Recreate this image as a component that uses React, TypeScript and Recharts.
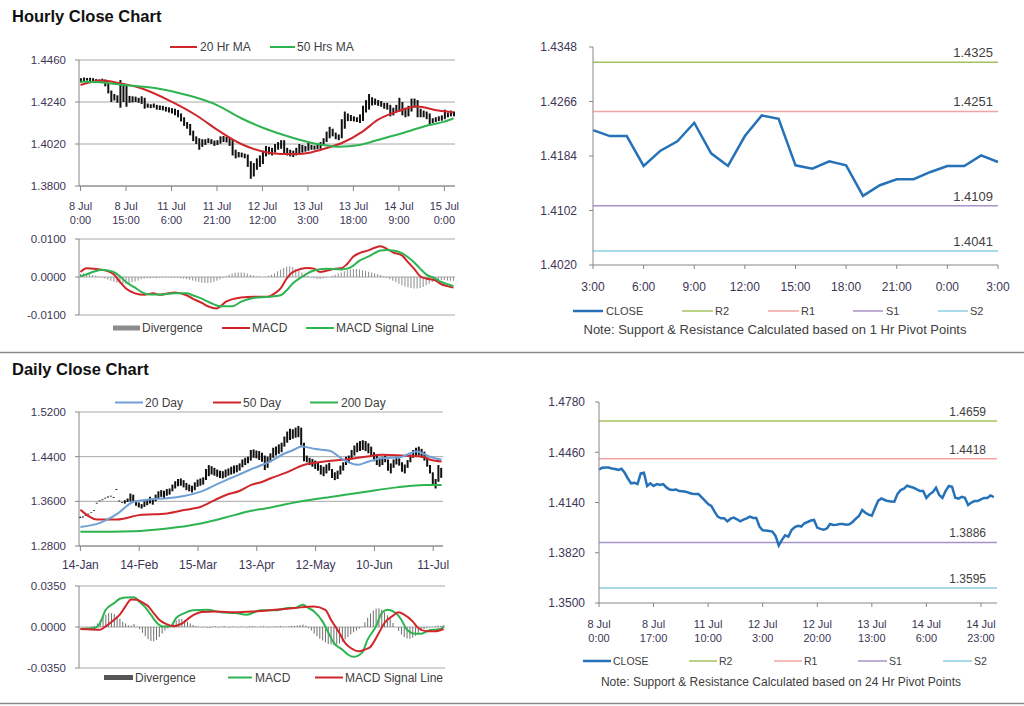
import React from 'react';
import {
  ComposedChart, LineChart, Line, Bar, XAxis, YAxis, CartesianGrid, ReferenceLine
} from 'recharts';

// ---------- hourly series: 8 Jul 0:00 .. 15 Jul 3:00 (124 bars) ----------
const hourLow = [
  1.4342, 1.4348, 1.4352, 1.4350, 1.4346, 1.4344, 1.4340, 1.4342, 1.4322, 1.4285,
  1.4240, 1.4248, 1.4236, 1.4210, 1.4240, 1.4215, 1.4236, 1.4238, 1.4240, 1.4236,
  1.4230, 1.4205, 1.4210, 1.4208, 1.4210, 1.4200, 1.4198, 1.4196, 1.4190, 1.4185,
  1.4180, 1.4170, 1.4160, 1.4138, 1.4115, 1.4100, 1.4065, 1.4035, 1.4020, 1.3990,
  1.4005, 1.4015, 1.4025, 1.4020, 1.4010, 1.4015, 1.4022, 1.4030, 1.4028, 1.4010,
  1.3960, 1.3945, 1.3950, 1.3950, 1.3945, 1.3900, 1.3838, 1.3850, 1.3885, 1.3900,
  1.3915, 1.3955, 1.3965, 1.3960, 1.3975, 1.3990, 1.3995, 1.3970, 1.3960, 1.3955,
  1.3952, 1.3960, 1.3965, 1.3975, 1.3980, 1.3985, 1.3990, 1.3990, 1.3992, 1.3995,
  1.4010, 1.4030, 1.4050, 1.4060, 1.4045, 1.4040, 1.4050, 1.4100, 1.4140, 1.4140,
  1.4138, 1.4135, 1.4130, 1.4140, 1.4185, 1.4200, 1.4222, 1.4225, 1.4220, 1.4215,
  1.4205, 1.4200, 1.4165, 1.4170, 1.4185, 1.4190, 1.4170, 1.4160, 1.4165, 1.4190,
  1.4210, 1.4160, 1.4160, 1.4160, 1.4150, 1.4118, 1.4130, 1.4135, 1.4140, 1.4142,
  1.4150, 1.4160, 1.4165, 1.4165,
];
const hourHigh = [
  1.4364, 1.4368, 1.4366, 1.4367, 1.4365, 1.4360, 1.4358, 1.4362, 1.4358, 1.4335,
  1.4300, 1.4282, 1.4275, 1.4355, 1.4340, 1.4332, 1.4272, 1.4270, 1.4268, 1.4262,
  1.4270, 1.4262, 1.4232, 1.4228, 1.4232, 1.4225, 1.4222, 1.4220, 1.4215, 1.4212,
  1.4208, 1.4205, 1.4198, 1.4180, 1.4160, 1.4135, 1.4125, 1.4090, 1.4060, 1.4050,
  1.4045, 1.4045, 1.4050, 1.4045, 1.4038, 1.4040, 1.4060, 1.4062, 1.4058, 1.4055,
  1.4045, 1.3990, 1.3978, 1.3975, 1.3970, 1.3965, 1.3930, 1.3920, 1.3945, 1.3960,
  1.3985, 1.4010, 1.4005, 1.4000, 1.4020, 1.4030, 1.4040, 1.4040, 1.4000, 1.3990,
  1.3985, 1.4000, 1.4020, 1.4015, 1.4010, 1.4025, 1.4015, 1.4012, 1.4020, 1.4030,
  1.4050, 1.4085, 1.4110, 1.4100, 1.4080, 1.4070, 1.4150, 1.4190, 1.4180, 1.4172,
  1.4165, 1.4160, 1.4175, 1.4220, 1.4250, 1.4282, 1.4265, 1.4258, 1.4250, 1.4245,
  1.4235, 1.4235, 1.4225, 1.4210, 1.4225, 1.4262, 1.4240, 1.4210, 1.4220, 1.4258,
  1.4258, 1.4250, 1.4205, 1.4195, 1.4190, 1.4180, 1.4155, 1.4160, 1.4165, 1.4170,
  1.4200, 1.4185, 1.4195, 1.4190,
];
const hourClose = [
  1.4350, 1.4361, 1.4363, 1.4363, 1.4357, 1.4353, 1.4348, 1.4355, 1.4329, 1.4293,
  1.4262, 1.4266, 1.4257, 1.4325, 1.4329, 1.4245, 1.4262, 1.4245, 1.4257, 1.4251,
  1.4257, 1.4236, 1.4223, 1.4219, 1.4223, 1.4213, 1.4211, 1.4209, 1.4202, 1.4196,
  1.4194, 1.4194, 1.4173, 1.4152, 1.4130, 1.4118, 1.4082, 1.4050, 1.4039, 1.4039,
  1.4020, 1.4037, 1.4044, 1.4033, 1.4020, 1.4031, 1.4039, 1.4050, 1.4042, 1.4042,
  1.3987, 1.3963, 1.3961, 1.3959, 1.3955, 1.3927, 1.3866, 1.3902, 1.3931, 1.3923,
  1.3965, 1.3984, 1.3991, 1.3987, 1.4008, 1.4016, 1.4025, 1.4029, 1.3980, 1.3972,
  1.3967, 1.3974, 1.4003, 1.3997, 1.3999, 1.4003, 1.4003, 1.3999, 1.4001, 1.4016,
  1.4037, 1.4054, 1.4092, 1.4075, 1.4063, 1.4056, 1.4105, 1.4152, 1.4166, 1.4156,
  1.4149, 1.4147, 1.4145, 1.4194, 1.4219, 1.4228, 1.4247, 1.4240, 1.4234, 1.4223,
  1.4214, 1.4214, 1.4169, 1.4192, 1.4206, 1.4234, 1.4188, 1.4169, 1.4214, 1.4245,
  1.4240, 1.4170, 1.4165, 1.4176, 1.4170, 1.4124, 1.4140, 1.4149, 1.4149, 1.4160,
  1.4169, 1.4169, 1.4185, 1.4175,
];
// moving averages, read at [bar, value]
const hourMa20 = [
  [0, 1.4329], [7, 1.4353], [13, 1.4338], [20, 1.4312], [30, 1.4242], [38, 1.4172],
  [46, 1.4085], [53, 1.4020], [60, 1.3981], [66, 1.3968], [71, 1.3967], [76, 1.3976],
  [81, 1.3998], [86, 1.4024], [93, 1.4085], [98, 1.4146], [105, 1.4193], [111, 1.4216],
  [118, 1.4195], [123, 1.4186],
];
const hourMa50 = [
  [0, 1.4348], [5, 1.4345], [16, 1.4327], [25, 1.4312], [35, 1.4277], [45, 1.4224],
  [53, 1.4155], [61, 1.4100], [67, 1.4067], [77, 1.4023], [85, 1.4006], [92, 1.4015],
  [98, 1.4041], [106, 1.4076], [115, 1.4120], [120, 1.4137], [123, 1.4155],
];
const hourDiv = [
  0.0008, 0.0010, 0.0009, 0.0007, 0.0005, 0.0003, 0.0001, -0.0002, -0.0004, -0.0007,
  -0.0010, -0.0013, -0.0015, -0.0017, -0.0018, -0.0018, -0.0016, -0.0014, -0.0012, -0.0009,
  -0.0006, -0.0004, -0.0003, -0.0003, -0.0002, -0.0003, -0.0002, -0.0001, -0.0002, -0.0001,
  -0.0001, -0.0002, -0.0002, -0.0003, -0.0004, -0.0005, -0.0007, -0.0009, -0.0011, -0.0013,
  -0.0015, -0.0016, -0.0016, -0.0015, -0.0013, -0.0010, -0.0006, -0.0002, 0.0002, 0.0006,
  0.0009, 0.0011, 0.0012, 0.0012, 0.0011, 0.0009, 0.0006, 0.0004, 0.0002, 0.0001,
  0.0000, 0.0001, 0.0003, 0.0006, 0.0010, 0.0015, 0.0020, 0.0024, 0.0027, 0.0028,
  0.0026, 0.0022, 0.0017, 0.0012, 0.0007, 0.0003, -0.0001, -0.0003, -0.0005, -0.0005,
  -0.0004, -0.0002, 0.0000, 0.0003, 0.0006, 0.0009, 0.0012, 0.0015, 0.0018, 0.0020,
  0.0021, 0.0021, 0.0020, 0.0018, 0.0016, 0.0014, 0.0012, 0.0010, 0.0008, 0.0005,
  0.0002, -0.0002, -0.0006, -0.0010, -0.0014, -0.0018, -0.0022, -0.0025, -0.0027, -0.0029,
  -0.0030, -0.0030, -0.0029, -0.0026, -0.0022, -0.0018, -0.0014, -0.0011, -0.0009, -0.0008,
  -0.0008, -0.0009, -0.0010, -0.0010,
];
const hourMacd = [
  [0, 0.0013], [2, 0.0023], [7, 0.0019], [11, 0.0007], [13, -0.0013], [15, -0.0030],
  [18, -0.0043], [21, -0.0047], [24, -0.0043], [26, -0.0047], [29, -0.0043], [31, -0.0041],
  [35, -0.0048], [37, -0.0057], [40, -0.0068], [42, -0.0077], [45, -0.0083], [46, -0.0078],
  [48, -0.0065], [53, -0.0054], [57, -0.0052], [62, -0.0052], [64, -0.0043], [66, -0.0030],
  [68, -0.0004], [70, 0.0013], [75, 0.0024], [77, 0.0022], [79, 0.0013], [84, 0.0022],
  [86, 0.0023], [88, 0.0035], [90, 0.0054], [92, 0.0063], [95, 0.0070], [97, 0.0077],
  [99, 0.0081], [101, 0.0074], [103, 0.0065], [106, 0.0057], [108, 0.0039], [110, 0.0022],
  [112, 0.0002], [114, -0.0004], [117, -0.0009], [119, -0.0019], [121, -0.0024], [123, -0.0028],
];
const hourSignal = [
  [0, 0.0002], [2, 0.0007], [4, 0.0013], [7, 0.0019], [9, 0.0017], [11, 0.0013],
  [13, 0.0002], [15, -0.0013], [18, -0.0028], [20, -0.0039], [23, -0.0046], [26, -0.0046],
  [31, -0.0043], [35, -0.0043], [37, -0.0048], [40, -0.0057], [42, -0.0065], [44, -0.0072],
  [46, -0.0077], [50, -0.0077], [53, -0.0065], [57, -0.0055], [62, -0.0052], [66, -0.0048],
  [68, -0.0035], [70, -0.0017], [73, 0.0000], [75, 0.0010], [77, 0.0017], [81, 0.0022],
  [86, 0.0020], [88, 0.0022], [90, 0.0030], [92, 0.0043], [95, 0.0054], [97, 0.0063],
  [99, 0.0070], [101, 0.0071], [103, 0.0070], [106, 0.0063], [108, 0.0052], [110, 0.0039],
  [112, 0.0022], [114, 0.0007], [117, -0.0004], [119, -0.0013], [121, -0.0019], [123, -0.0024],
];
const hourTicks = [0, 15, 30, 45, 60, 75, 90, 105, 120];
const hourTickDays = ['8 Jul', '8 Jul', '11 Jul', '11 Jul', '12 Jul', '13 Jul', '13 Jul', '14 Jul', '15 Jul'];
const hourTickTimes = ['0:00', '15:00', '6:00', '21:00', '12:00', '3:00', '18:00', '9:00', '0:00'];

// 1 hr pivot chart: last 25 hourly closes (14 Jul 3:00 .. 15 Jul 3:00)
const pivotStart = 99;
const pivotHourTicks = [0, 3, 6, 9, 12, 15, 18, 21, 24];
const pivotHourLabels = ['3:00', '6:00', '9:00', '12:00', '15:00', '18:00', '21:00', '0:00', '3:00'];
const hourPivots = { R2: 1.4325, R1: 1.4251, S1: 1.4109, S2: 1.4041 };

// 24 hr pivot chart over the full hourly close
const pivotDayTicks = [0, 17, 34, 51, 68, 85, 102, 119];
const pivotDayDays = ['8 Jul', '8 Jul', '11 Jul', '12 Jul', '12 Jul', '13 Jul', '14 Jul', '14 Jul'];
const pivotDayTimes = ['0:00', '17:00', '10:00', '3:00', '20:00', '13:00', '6:00', '23:00'];
const dayPivots = { R2: 1.4659, R1: 1.4418, S1: 1.3886, S2: 1.3595 };

// ---------- daily series: 14 Jan .. 15 Jul (130 bars) ----------
const dayLow = [
  1.3300, 1.3310, 1.3340, 1.3365, 1.3390, 1.3425, 1.3560, 1.3600, 1.3620, 1.3650,
  1.3670, 1.3685, 1.3660, 1.3805, 1.3600, 1.3570, 1.3560, 1.3590, 1.3600, 1.3580,
  1.3520, 1.3490, 1.3470, 1.3500, 1.3530, 1.3560, 1.3540, 1.3600, 1.3650, 1.3680,
  1.3660, 1.3700, 1.3720, 1.3780, 1.3830, 1.3870, 1.3880, 1.3850, 1.3800, 1.3780,
  1.3760, 1.3800, 1.3860, 1.3880, 1.3900, 1.3980, 1.4050, 1.4080, 1.4060, 1.4040,
  1.4020, 1.4010, 1.4030, 1.4060, 1.4080, 1.4100, 1.4120, 1.4150, 1.4210, 1.4250,
  1.4280, 1.4330, 1.4380, 1.4370, 1.4340, 1.4310, 1.4160, 1.4200, 1.4300, 1.4380,
  1.4420, 1.4450, 1.4480, 1.4580, 1.4650, 1.4700, 1.4720, 1.4740, 1.4750, 1.4600,
  1.4320, 1.4300, 1.4250, 1.4220, 1.4180, 1.4150, 1.4080, 1.4050, 1.4100, 1.4150,
  1.4020, 1.3980, 1.4000, 1.4080, 1.4150, 1.4250, 1.4290, 1.4350, 1.4420, 1.4480,
  1.4500, 1.4520, 1.4500, 1.4460, 1.4420, 1.4320, 1.4250, 1.4220, 1.4250, 1.4300,
  1.4150, 1.4100, 1.4200, 1.4260, 1.4240, 1.4130, 1.4100, 1.4200, 1.4300, 1.4380,
  1.4400, 1.4420, 1.4380, 1.4330, 1.4220, 1.4100, 1.3880, 1.3830, 1.3950, 1.4020,
];
const dayHigh = [
  1.3325, 1.3330, 1.3352, 1.3378, 1.3402, 1.3440, 1.3575, 1.3615, 1.3635, 1.3665,
  1.3685, 1.3700, 1.3675, 1.3822, 1.3615, 1.3585, 1.3620, 1.3650, 1.3740, 1.3720,
  1.3610, 1.3580, 1.3550, 1.3600, 1.3640, 1.3680, 1.3650, 1.3720, 1.3780, 1.3800,
  1.3790, 1.3820, 1.3830, 1.3900, 1.3960, 1.4000, 1.4010, 1.3980, 1.3930, 1.3900,
  1.3880, 1.3940, 1.3990, 1.4010, 1.4030, 1.4180, 1.4250, 1.4230, 1.4200, 1.4170,
  1.4150, 1.4140, 1.4170, 1.4190, 1.4220, 1.4240, 1.4250, 1.4280, 1.4350, 1.4380,
  1.4400, 1.4520, 1.4530, 1.4510, 1.4500, 1.4470, 1.4420, 1.4400, 1.4460, 1.4560,
  1.4580, 1.4620, 1.4650, 1.4760, 1.4850, 1.4900, 1.4890, 1.4920, 1.4950, 1.4920,
  1.4650, 1.4420, 1.4380, 1.4360, 1.4330, 1.4300, 1.4250, 1.4220, 1.4260, 1.4290,
  1.4180, 1.4120, 1.4150, 1.4240, 1.4300, 1.4400, 1.4420, 1.4520, 1.4600, 1.4650,
  1.4680, 1.4695, 1.4680, 1.4640, 1.4580, 1.4480, 1.4420, 1.4380, 1.4400, 1.4420,
  1.4350, 1.4280, 1.4350, 1.4400, 1.4370, 1.4300, 1.4260, 1.4340, 1.4440, 1.4520,
  1.4560, 1.4580, 1.4540, 1.4490, 1.4380, 1.4250, 1.4120, 1.4000, 1.4250, 1.4200,
];
const dayMa20 = [
  [0, 1.3140], [7, 1.3215], [13, 1.3370], [19, 1.3593], [25, 1.3636], [31, 1.3654],
  [37, 1.3696], [43, 1.3773], [49, 1.3912], [55, 1.4044], [60, 1.4153], [65, 1.4255],
  [68, 1.4320], [72, 1.4434], [76, 1.4520], [79, 1.4584], [84, 1.4536], [89, 1.4506],
  [94, 1.4344], [99, 1.4254], [103, 1.4314], [108, 1.4374], [114, 1.4390], [120, 1.4494],
  [125, 1.4393], [129, 1.4344],
];
const dayMa50 = [
  [0, 1.3450], [6, 1.3276], [13, 1.3276], [21, 1.3353], [31, 1.3383], [37, 1.3443],
  [43, 1.3503], [48, 1.3623], [52, 1.3713], [57, 1.3790], [61, 1.3894], [65, 1.3950],
  [68, 1.4013], [73, 1.4104], [80, 1.4255], [87, 1.4314], [94, 1.4344], [101, 1.4392],
  [108, 1.4434], [116, 1.4416], [122, 1.4404], [125, 1.4344], [129, 1.4314],
];
const dayMa200 = [
  [0, 1.3053], [19, 1.3065], [31, 1.3113], [43, 1.3203], [55, 1.3353], [61, 1.3430],
  [66, 1.3473], [78, 1.3593], [90, 1.3683], [102, 1.3773], [113, 1.3850], [123, 1.3893],
  [129, 1.3893],
];
const dayDiv = [
  0.0000, -0.0003, -0.0003, 0.0000, 0.0005, 0.0010, 0.0030, 0.0055, 0.0085, 0.0105,
  0.0120, 0.0118, 0.0110, 0.0095, 0.0070, 0.0045, 0.0030, 0.0015, 0.0010, 0.0025,
  0.0005, -0.0020, -0.0050, -0.0080, -0.0105, -0.0120, -0.0122, -0.0110, -0.0085, -0.0055,
  -0.0030, -0.0012, 0.0005, 0.0030, 0.0055, 0.0068, 0.0070, 0.0060, 0.0045, 0.0030,
  0.0018, 0.0008, 0.0003, -0.0005, 0.0002, -0.0006, -0.0008, 0.0004, 0.0006, -0.0004,
  0.0003, 0.0008, -0.0003, -0.0006, 0.0004, 0.0002, -0.0005, 0.0005, 0.0003, -0.0004,
  0.0006, 0.0008, 0.0004, -0.0003, 0.0005, 0.0007, 0.0003, -0.0004, 0.0002, 0.0006,
  0.0004, 0.0008, 0.0005, 0.0003, 0.0007, 0.0010, 0.0008, 0.0012, 0.0018, 0.0022,
  0.0010, -0.0010, -0.0030, -0.0055, -0.0080, -0.0100, -0.0115, -0.0130, -0.0145, -0.0150,
  -0.0155, -0.0150, -0.0140, -0.0125, -0.0105, -0.0085, -0.0065, -0.0045, -0.0030, -0.0015,
  0.0005, 0.0040, 0.0080, 0.0115, 0.0140, 0.0158, 0.0160, 0.0150, 0.0125, 0.0100,
  0.0070, 0.0035, 0.0000, -0.0035, -0.0065, -0.0085, -0.0098, -0.0100, -0.0092, -0.0075,
  -0.0055, -0.0035, -0.0020, -0.0010, -0.0005, 0.0003, 0.0008, 0.0012, 0.0010, 0.0015,
];
const dayMacd = [
  [0, -0.0017], [5, -0.0009], [7, 0.0034], [9, 0.0147], [12, 0.0204], [14, 0.0241],
  [16, 0.0252], [19, 0.0255], [21, 0.0215], [23, 0.0170], [25, 0.0105], [27, 0.0040],
  [29, 0.0005], [32, 0.0006], [34, 0.0077], [37, 0.0119], [40, 0.0142], [45, 0.0147],
  [50, 0.0125], [55, 0.0119], [59, 0.0105], [64, 0.0142], [69, 0.0142], [74, 0.0162],
  [76, 0.0162], [79, 0.0190], [81, 0.0162], [83, 0.0133], [86, 0.0048], [88, -0.0045],
  [90, -0.0136], [93, -0.0193], [95, -0.0235], [97, -0.0255], [100, -0.0221], [102, -0.0108],
  [105, 0.0006], [107, 0.0119], [109, 0.0147], [112, 0.0119], [114, 0.0062], [116, -0.0023],
  [119, -0.0057], [121, -0.0057], [124, -0.0028], [126, -0.0023], [128, -0.0017], [129, 0.0006],
];
const daySignal = [
  [0, -0.0017], [7, -0.0023], [9, 0.0006], [12, 0.0062], [14, 0.0105], [16, 0.0176],
  [18, 0.0235], [20, 0.0232], [22, 0.0210], [24, 0.0180], [26, 0.0119], [28, 0.0062],
  [31, 0.0020], [33, 0.0006], [36, 0.0028], [39, 0.0085], [43, 0.0128], [48, 0.0133],
  [55, 0.0125], [62, 0.0133], [69, 0.0147], [76, 0.0162], [83, 0.0176], [87, 0.0147],
  [89, 0.0062], [92, -0.0051], [94, -0.0136], [96, -0.0179], [99, -0.0207], [101, -0.0193],
  [103, -0.0170], [106, -0.0051], [108, 0.0034], [111, 0.0096], [113, 0.0125], [115, 0.0105],
  [118, 0.0048], [120, -0.0009], [123, -0.0037], [126, -0.0037], [129, -0.0017],
];
const dayTicks = [0, 21, 42, 63, 84, 105, 126];
const dayTickLabels = ['14-Jan', '14-Feb', '15-Mar', '13-Apr', '12-May', '10-Jun', '11-Jul'];

// ---------- styling ----------
const FONT = '"Liberation Sans", Arial, sans-serif';
const AXIS = '#868686';
const GRID = '#a8a8a8';
const TICK_TEXT = '#3d3556';
const TEXT = '#404040';
const RED = '#d0262a';
const GREEN = '#2db451';
const MA_BLUE = '#6f9fd5';
const CLOSE_BLUE = '#2672b8';
const R2_C = '#a3c25f';
const R1_C = '#f0a4a4';
const S1_C = '#a893c8';
const S2_C = '#8ccfe3';

const fmt4 = (v: number) => v.toFixed(4);

const addSparse = (rows: any[], key: string, pts: number[][]) => {
  pts.forEach(([i, v]) => { rows[i][key] = v; });
  return rows;
};

const hourPriceRows = hourLow.map((lo, i) => ({ i, range: [lo, hourHigh[i]] } as any));
addSparse(hourPriceRows, 'ma20', hourMa20);
addSparse(hourPriceRows, 'ma50', hourMa50);

const hourMacdRows = hourDiv.map((d, i) => ({ i, div: d } as any));
addSparse(hourMacdRows, 'macd', hourMacd);
addSparse(hourMacdRows, 'signal', hourSignal);

const dayPriceRows = dayLow.map((lo, i) => ({ i, range: [lo, dayHigh[i]] } as any));
addSparse(dayPriceRows, 'ma20', dayMa20);
addSparse(dayPriceRows, 'ma50', dayMa50);
addSparse(dayPriceRows, 'ma200', dayMa200);

const dayMacdRows = dayDiv.map((d, i) => ({ i, div: d } as any));
addSparse(dayMacdRows, 'macd', dayMacd);
addSparse(dayMacdRows, 'signal', daySignal);

const hourPivotRows = hourClose.slice(pivotStart).map((c, k) => ({ k, close: c }));
const dayPivotRows = hourClose.map((c, i) => ({ i, close: c }));

const TwoLineTick = ({ x, y, payload, ticks, tops, bottoms, size, d1, d2 }: any) => {
  const k = ticks.indexOf(payload.value);
  return (
    <text x={x} y={y} textAnchor="middle" fontSize={size} fill={TICK_TEXT}>
      <tspan x={x} dy={d1}>{tops[k]}</tspan>
      <tspan x={x} dy={d2 - d1}>{bottoms[k]}</tspan>
    </text>
  );
};

const OneLineTick = ({ x, y, payload, ticks, labels, size, d1 }: any) => {
  const k = ticks.indexOf(payload.value);
  return (
    <text x={x} y={y + d1} textAnchor="middle" fontSize={size} fill={TICK_TEXT}>{labels[k]}</text>
  );
};

const PivotLabel = ({ viewBox, text, pad, size }: any) => (
  <text x={viewBox.x + viewBox.width - pad} y={viewBox.y - 5} textAnchor="end" fontSize={size} fill={TEXT}>
    {text}
  </text>
);

const yAxisProps = (size: number, margin: number) => ({
  tick: { fill: TICK_TEXT, fontSize: size },
  tickLine: { stroke: AXIS },
  axisLine: { stroke: AXIS },
  tickSize: 4,
  tickMargin: margin,
  tickFormatter: fmt4,
  interval: 0 as const,
});

const Box = ({ left, top, children }: any) => (
  <div style={{ position: 'absolute', left, top }}>{children}</div>
);

const LLine = ({ x1, x2, y, c, w = 2 }: any) => (
  <line x1={x1} x2={x2} y1={y} y2={y} stroke={c} strokeWidth={w} />
);
const LText = ({ x, y, s = 12, children }: any) => (
  <text x={x} y={y} fontSize={s} fill={TEXT}>{children}</text>
);

export default function App() {
  return (
    <div style={{ position: 'absolute', left: 0, top: 0, width: 1024, height: 706, background: '#fff', fontFamily: FONT, overflow: 'hidden' }}>
      {/* Hourly price with candles + MAs */}
      <Box left={0} top={50}>
        <ComposedChart width={475} height={180} data={hourPriceRows} margin={{ top: 10, right: 20, bottom: 0, left: 0 }}>
          <CartesianGrid vertical={false} stroke={GRID} />
          <XAxis
            dataKey="i" type="number" domain={[-0.5, 123.5]} ticks={hourTicks} interval={0}
            height={44} tickSize={5} tickLine={{ stroke: AXIS }} axisLine={{ stroke: AXIS }}
            tick={(p: any) => <TwoLineTick {...p} ticks={hourTicks} tops={hourTickDays} bottoms={hourTickTimes} size={11} d1={17} d2={31} />}
          />
          <YAxis width={79} domain={[1.38, 1.446]} ticks={[1.38, 1.402, 1.424, 1.446]} {...yAxisProps(11.5, 9)} />
          <Bar dataKey="range" fill="#111" barSize={2} isAnimationActive={false} />
          <Line dataKey="ma20" type="monotone" stroke={RED} strokeWidth={2} dot={false} connectNulls isAnimationActive={false} />
          <Line dataKey="ma50" type="monotone" stroke={GREEN} strokeWidth={2} dot={false} connectNulls isAnimationActive={false} />
        </ComposedChart>
      </Box>

      {/* Hourly MACD */}
      <Box left={0} top={230}>
        <ComposedChart width={475} height={93} data={hourMacdRows} margin={{ top: 9, right: 20, bottom: 8, left: 0 }}>
          <CartesianGrid vertical={false} stroke={GRID} />
          <XAxis dataKey="i" type="number" domain={[-0.5, 123.5]} hide />
          <YAxis width={79} domain={[-0.01, 0.01]} ticks={[-0.01, 0, 0.01]} {...yAxisProps(11.5, 9)} />
          <Bar dataKey="div" fill="#8c8c8c" barSize={1} isAnimationActive={false} />
          <Line dataKey="macd" type="monotone" stroke={RED} strokeWidth={2} dot={false} connectNulls isAnimationActive={false} />
          <Line dataKey="signal" type="monotone" stroke={GREEN} strokeWidth={2} dot={false} connectNulls isAnimationActive={false} />
        </ComposedChart>
      </Box>

      {/* 1 Hr pivot chart */}
      <Box left={520} top={37}>
        <LineChart width={498} height={258} data={hourPivotRows} margin={{ top: 10, right: 20, bottom: 0, left: 0 }}>
          <XAxis
            dataKey="k" type="number" domain={[0, 24]} ticks={pivotHourTicks} interval={0}
            height={30} tickSize={4} tickLine={{ stroke: AXIS }} axisLine={{ stroke: AXIS }}
            tick={(p: any) => <OneLineTick {...p} ticks={pivotHourTicks} labels={pivotHourLabels} size={12} d1={20} />}
          />
          <YAxis width={73} domain={[1.402, 1.4348]} ticks={[1.402, 1.4102, 1.4184, 1.4266, 1.4348]} {...yAxisProps(12, 12)} />
          <ReferenceLine y={hourPivots.R2} stroke={R2_C} strokeWidth={1.5} label={<PivotLabel text={fmt4(hourPivots.R2)} pad={5} size={13} />} />
          <ReferenceLine y={hourPivots.R1} stroke={R1_C} strokeWidth={1.5} label={<PivotLabel text={fmt4(hourPivots.R1)} pad={5} size={13} />} />
          <ReferenceLine y={hourPivots.S1} stroke={S1_C} strokeWidth={1.5} label={<PivotLabel text={fmt4(hourPivots.S1)} pad={5} size={13} />} />
          <ReferenceLine y={hourPivots.S2} stroke={S2_C} strokeWidth={1.5} label={<PivotLabel text={fmt4(hourPivots.S2)} pad={5} size={13} />} />
          <Line dataKey="close" type="linear" stroke={CLOSE_BLUE} strokeWidth={2.5} dot={false} isAnimationActive={false} />
        </LineChart>
      </Box>

      {/* Daily price with candles + MAs */}
      <Box left={0} top={402}>
        <ComposedChart width={463} height={170} data={dayPriceRows} margin={{ top: 10, right: 20, bottom: 0, left: 0 }}>
          <CartesianGrid vertical={false} stroke={GRID} />
          <XAxis
            dataKey="i" type="number" domain={[-0.5, 129.5]} ticks={dayTicks} interval={0}
            height={26} tickSize={5} tickLine={{ stroke: AXIS }} axisLine={{ stroke: AXIS }}
            tick={(p: any) => <OneLineTick {...p} ticks={dayTicks} labels={dayTickLabels} size={12} d1={16} />}
          />
          <YAxis width={79} domain={[1.28, 1.52]} ticks={[1.28, 1.36, 1.44, 1.52]} {...yAxisProps(11.5, 9)} />
          <Bar dataKey="range" fill="#111" barSize={2} isAnimationActive={false} />
          <Line dataKey="ma200" type="monotone" stroke={GREEN} strokeWidth={2} dot={false} connectNulls isAnimationActive={false} />
          <Line dataKey="ma50" type="monotone" stroke={RED} strokeWidth={2} dot={false} connectNulls isAnimationActive={false} />
          <Line dataKey="ma20" type="monotone" stroke={MA_BLUE} strokeWidth={2} dot={false} connectNulls isAnimationActive={false} />
        </ComposedChart>
      </Box>

      {/* Daily MACD */}
      <Box left={0} top={576}>
        <ComposedChart width={465} height={100} data={dayMacdRows} margin={{ top: 10, right: 20, bottom: 8, left: 0 }}>
          <CartesianGrid vertical={false} stroke={GRID} />
          <XAxis dataKey="i" type="number" domain={[-0.5, 129.5]} hide />
          <YAxis width={79} domain={[-0.035, 0.035]} ticks={[-0.035, 0, 0.035]} {...yAxisProps(11.5, 9)} />
          <Bar dataKey="div" fill="#6e6e6e" barSize={1} isAnimationActive={false} />
          <Line dataKey="macd" type="monotone" stroke={GREEN} strokeWidth={2} dot={false} connectNulls isAnimationActive={false} />
          <Line dataKey="signal" type="monotone" stroke={RED} strokeWidth={2} dot={false} connectNulls isAnimationActive={false} />
        </ComposedChart>
      </Box>

      {/* 24 Hr pivot chart */}
      <Box left={520} top={392}>
        <LineChart width={497} height={261} data={dayPivotRows} margin={{ top: 10, right: 20, bottom: 0, left: 0 }}>
          <XAxis
            dataKey="i" type="number" domain={[0, 124]} ticks={pivotDayTicks} interval={0}
            height={50} tickSize={4} tickLine={{ stroke: AXIS }} axisLine={{ stroke: AXIS }}
            tick={(p: any) => <TwoLineTick {...p} ticks={pivotDayTicks} tops={pivotDayDays} bottoms={pivotDayTimes} size={11} d1={19} d2={32.5} />}
          />
          <YAxis width={79} domain={[1.35, 1.478]} ticks={[1.35, 1.382, 1.414, 1.446, 1.478]} {...yAxisProps(12, 10)} />
          <ReferenceLine y={dayPivots.R2} stroke={R2_C} strokeWidth={1.5} label={<PivotLabel text={fmt4(dayPivots.R2)} pad={11} size={12} />} />
          <ReferenceLine y={dayPivots.R1} stroke={R1_C} strokeWidth={1.5} label={<PivotLabel text={fmt4(dayPivots.R1)} pad={11} size={12} />} />
          <ReferenceLine y={dayPivots.S1} stroke={S1_C} strokeWidth={1.5} label={<PivotLabel text={fmt4(dayPivots.S1)} pad={11} size={12} />} />
          <ReferenceLine y={dayPivots.S2} stroke={S2_C} strokeWidth={1.5} label={<PivotLabel text={fmt4(dayPivots.S2)} pad={11} size={12} />} />
          <Line dataKey="close" type="linear" stroke={CLOSE_BLUE} strokeWidth={2.5} dot={false} isAnimationActive={false} />
        </LineChart>
      </Box>

      {/* titles, legends, notes, separators */}
      <svg width={1024} height={706} style={{ position: 'absolute', left: 0, top: 0, pointerEvents: 'none' }}>
        <text x={12} y={22} fontSize={16.5} fontWeight="bold" fill="#111">Hourly Close Chart</text>
        <text x={12} y={375} fontSize={16.5} fontWeight="bold" fill="#111">Daily Close Chart</text>
        <line x1={0} x2={1024} y1={352.5} y2={352.5} stroke="#8a8a8a" strokeWidth={1.5} />
        <line x1={0} x2={1024} y1={703.5} y2={703.5} stroke="#8a8a8a" strokeWidth={1.5} />

        <LLine x1={170} x2={197} y={47} c={RED} />
        <LText x={200} y={51}>20 Hr MA</LText>
        <LLine x1={270} x2={295} y={47} c={GREEN} />
        <LText x={297} y={51}>50 Hrs MA</LText>

        <rect x={113} y={325.5} width={27} height={5} fill="#8c8c8c" />
        <LText x={142} y={332}>Divergence</LText>
        <LLine x1={222} x2={250} y={328} c={RED} />
        <LText x={252} y={332}>MACD</LText>
        <LLine x1={306} x2={334} y={328} c={GREEN} />
        <LText x={336} y={332}>MACD Signal Line</LText>

        <LLine x1={573} x2={603} y={311} c={CLOSE_BLUE} w={2.5} />
        <LText x={606} y={315} s={11}>CLOSE</LText>
        <LLine x1={682} x2={713} y={311} c={R2_C} w={1.5} />
        <LText x={715} y={315} s={11}>R2</LText>
        <LLine x1={768} x2={799} y={311} c={R1_C} w={1.5} />
        <LText x={801} y={315} s={11}>R1</LText>
        <LLine x1={853} x2={883} y={311} c={S1_C} w={1.5} />
        <LText x={886} y={315} s={11}>S1</LText>
        <LLine x1={938} x2={968} y={311} c={S2_C} w={1.5} />
        <LText x={970} y={315} s={11}>S2</LText>
        <text x={775} y={333.5} fontSize={13} fill={TEXT} textAnchor="middle">Note: Support &amp; Resistance Calculated based on 1 Hr Pivot Points</text>

        <LLine x1={115} x2={143} y={402.5} c={MA_BLUE} />
        <LText x={145} y={407}>20 Day</LText>
        <LLine x1={213} x2={241} y={402.5} c={RED} />
        <LText x={243} y={407}>50 Day</LText>
        <LLine x1={310} x2={338} y={402.5} c={GREEN} />
        <LText x={341} y={407}>200 Day</LText>

        <rect x={104} y={675} width={29} height={5} fill="#555" />
        <LText x={135} y={682}>Divergence</LText>
        <LLine x1={228} x2={252} y={677.5} c={GREEN} />
        <LText x={255} y={682}>MACD</LText>
        <LLine x1={315} x2={343} y={677.5} c={RED} />
        <LText x={345} y={682}>MACD Signal Line</LText>

        <LLine x1={583} x2={611} y={661} c={CLOSE_BLUE} w={2.5} />
        <LText x={613} y={665} s={10.5}>CLOSE</LText>
        <LLine x1={689} x2={717} y={661} c={R2_C} w={1.5} />
        <LText x={719} y={665} s={10.5}>R2</LText>
        <LLine x1={774} x2={802} y={661} c={R1_C} w={1.5} />
        <LText x={804} y={665} s={10.5}>R1</LText>
        <LLine x1={858} x2={887} y={661} c={S1_C} w={1.5} />
        <LText x={889} y={665} s={10.5}>S1</LText>
        <LLine x1={943} x2={972} y={661} c={S2_C} w={1.5} />
        <LText x={974} y={665} s={10.5}>S2</LText>
        <text x={781} y={686} fontSize={12} fill={TEXT} textAnchor="middle">Note: Support &amp; Resistance Calculated based on 24 Hr Pivot Points</text>
      </svg>
    </div>
  );
}
